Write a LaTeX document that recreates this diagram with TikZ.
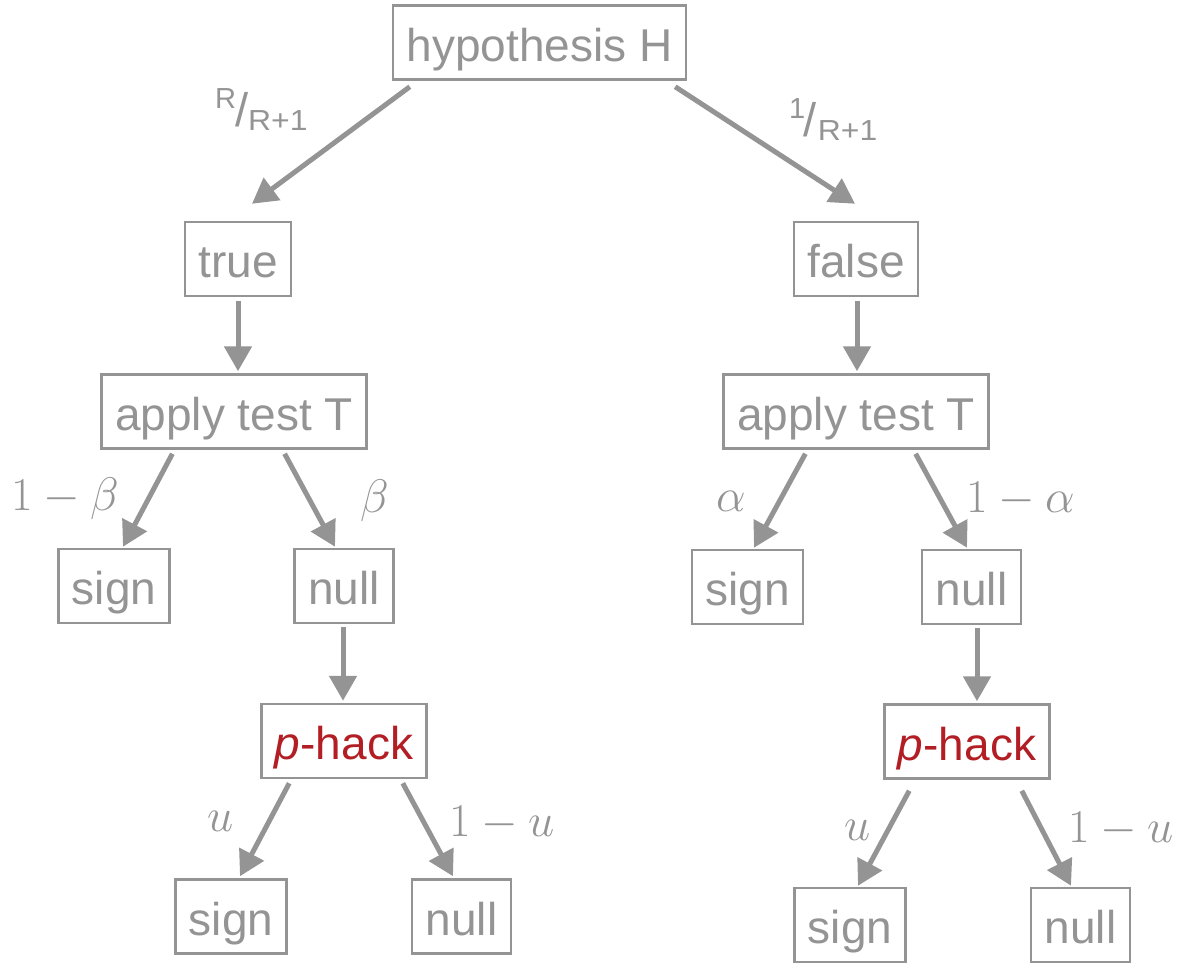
\RequirePackage{fix-cm}
\documentclass[tikz,border=0pt]{standalone}
\usepackage[no-math]{fontspec}
\setmainfont{Liberation Sans}
\usetikzlibrary{arrows.meta,calc}
\definecolor{gr}{RGB}{148,148,148}
\definecolor{hackred}{RGB}{178,30,36}
% slashed fraction: raised numerator, large slash, lowered denominator
% #3, #4: kerns before and after the slash
\newcommand{\probfrac}[4]{%
  \raisebox{18pt}{\fontsize{29}{29}\selectfont #1}\kern#3%
  {\fontsize{47}{47}\selectfont /}\kern#4%
  \raisebox{-4pt}{\fontsize{29}{29}\selectfont\scalebox{1.1}[1]{#2}}}
\tikzset{
  box/.style={draw=gr, line width=2.5pt, text=gr,
    font=\fontsize{46}{46}\selectfont,
    inner xsep=13.5pt, inner ysep=10pt, text height=45.5pt, text depth=8.5pt},
  arr/.style={draw=gr, line width=5pt, -{Triangle[length=25pt,width=27pt]}},
  lab/.style={text=gr, inner sep=0pt, anchor=base west,
    font=\fontsize{47}{47}\selectfont},
  fraclab/.style={text=gr, inner sep=0pt, anchor=base west}
}
\begin{document}
\begin{tikzpicture}[x=1pt,y=-1pt]
\useasboundingbox (0,0) rectangle (1178,964);

% tree nodes
\node[box] (H)    at (539.5,42.5) {hypothesis H};
\node[box] (tr)   at (238,259)    {true};
\node[box] (fa)   at (856,259)    {false};
\node[box] (apL)  at (234,411.5)  {apply test T};
\node[box] (apR)  at (856,411.5)  {apply test T};
\node[box] (sgL)  at (114,586)    {sign};
\node[box] (nuL)  at (344,586)    {null};
\node[box] (sgR)  at (747.5,587)  {sign};
\node[box] (nuR)  at (971.5,587)  {null};
\node[box] (phL)  at (344,741)    {\color{hackred}\textit{p}-hack};
\node[box] (phR)  at (967,741.5)  {\color{hackred}\textit{p}-hack};
\node[box] (sgBL) at (231,916.5)  {sign};
\node[box] (nuBL) at (461.5,916.5){null};
\node[box] (sgBR) at (850,925)    {sign};
\node[box] (nuBR) at (1080.5,925) {null};

% connectors
\draw[arr] ($(H.south west)+(18,6)$)   -- ($(tr.north)+(14,-17)$);
\draw[arr] ($(H.south east)+(-12,6)$)  -- ($(fa.north)+(-1,-17)$);
\draw[arr] ($(tr.south)+(0,4)$)        -- ($(apL.north -| tr.south)+(0,-2)$);
\draw[arr] ($(fa.south)+(1,4)$)        -- ($(apR.north)+(1,-2)$);
\draw[arr] ($(apL.south west)+(72,4)$) -- ($(sgL.north)+(9,-1)$);
\draw[arr] ($(apL.south east)+(-83,4)$)-- ($(nuL.north)+(-9,-1)$);
\draw[arr] ($(apR.south west)+(83,4)$) -- ($(sgR.north)+(6.5,-1)$);
\draw[arr] ($(apR.south east)+(-74,4)$)-- ($(nuR.north)+(-4.5,-1)$);
\draw[arr] ($(nuL.south)+(-1,3)$)      -- ($(phL.north)+(-1,-2)$);
\draw[arr] ($(nuR.south)+(5.5,3)$)     -- ($(phR.north)+(10,-2)$);
\draw[arr] ($(phL.south west)+(29,4)$) -- ($(sgBL.north)+(9,-2)$);
\draw[arr] ($(phL.south east)+(-25,4)$)-- ($(nuBL.north)+(-8.5,-2)$);
\draw[arr] ($(phR.south west)+(26,11)$)-- ($(sgBR.north)+(8,-1)$);
\draw[arr] ($(phR.south east)+(-29,11)$)-- ($(nuBR.north)+(-9.5,-1)$);

% branch probabilities
\node[fraclab] (pTrue)  at (215,126) {\probfrac{R}{R+1}{-1pt}{0pt}};
\node[fraclab] (pFalse) at (789,136) {\probfrac{1}{R+1}{-1.5pt}{1pt}};
\node[lab] (lOneBeta)  at (11,510)   {$1-\beta$};
\node[lab] (lBeta)     at (360,512)  {$\beta$};
\node[lab] (lAlpha)    at (716,511)  {$\alpha$};
\node[lab] (lOneAlpha) at (966,512)  {$1-\alpha$};
\node[lab] (lUL)       at (207,831)  {$u$};
\node[lab] (lOneUL)    at (449,836)  {$1-u$};
\node[lab] (lUR)       at (844,840)  {$u$};
\node[lab] (lOneUR)    at (1068,842) {$1-u$};
\end{tikzpicture}
\end{document}
